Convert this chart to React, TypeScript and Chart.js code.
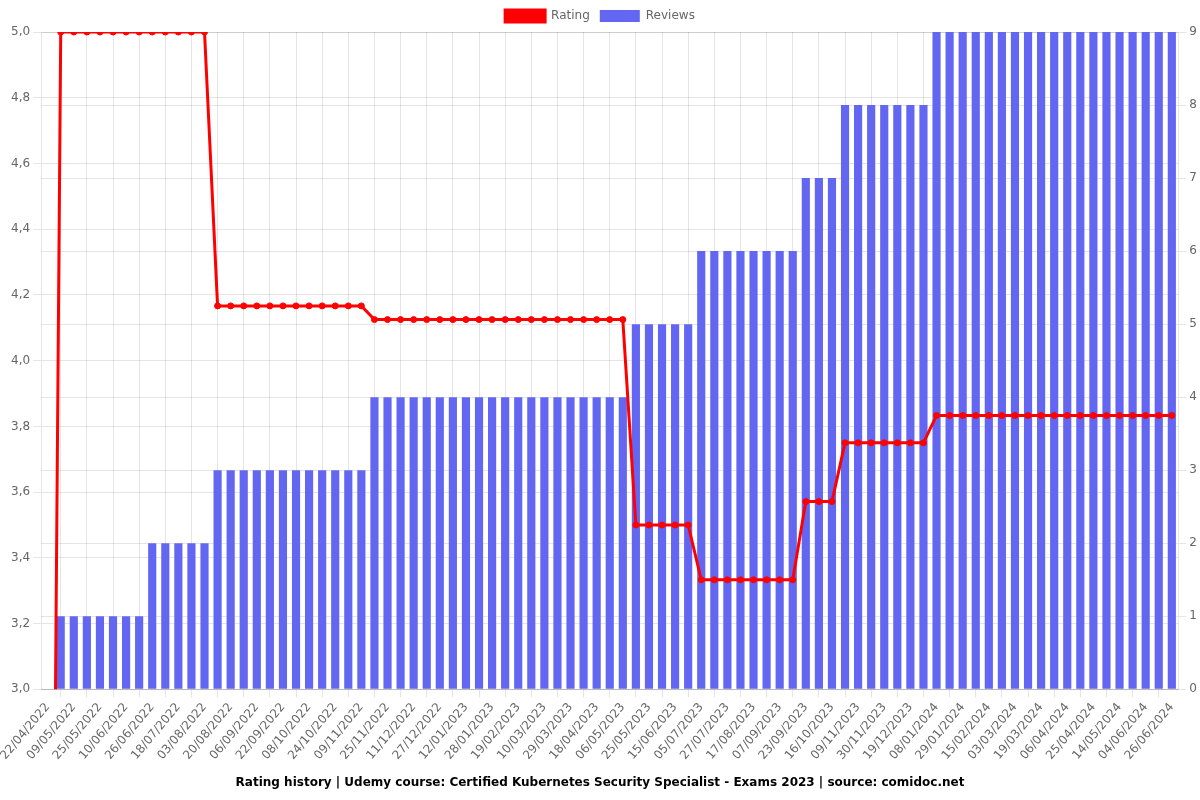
import React, { useEffect, useRef } from "react";
import { Chart, registerables } from "chart.js";

Chart.register(...registerables);

const labels: string[] = [
  "22/04/2022", "30/04/2022", "09/05/2022", "17/05/2022", "25/05/2022", "02/06/2022",
  "10/06/2022", "18/06/2022", "26/06/2022", "07/07/2022", "18/07/2022", "26/07/2022",
  "03/08/2022", "11/08/2022", "20/08/2022", "28/08/2022", "06/09/2022", "14/09/2022",
  "22/09/2022", "30/09/2022", "08/10/2022", "16/10/2022", "24/10/2022", "01/11/2022",
  "09/11/2022", "17/11/2022", "25/11/2022", "03/12/2022", "11/12/2022", "19/12/2022",
  "27/12/2022", "04/01/2023", "12/01/2023", "20/01/2023", "28/01/2023", "08/02/2023",
  "19/02/2023", "28/02/2023", "10/03/2023", "19/03/2023", "29/03/2023", "08/04/2023",
  "18/04/2023", "27/04/2023", "06/05/2023", "15/05/2023", "25/05/2023", "04/06/2023",
  "15/06/2023", "25/06/2023", "05/07/2023", "16/07/2023", "27/07/2023", "06/08/2023",
  "17/08/2023", "27/08/2023", "07/09/2023", "15/09/2023", "23/09/2023", "04/10/2023",
  "16/10/2023", "28/10/2023", "09/11/2023", "19/11/2023", "30/11/2023", "09/12/2023",
  "19/12/2023", "29/12/2023", "08/01/2024", "18/01/2024", "29/01/2024", "06/02/2024",
  "15/02/2024", "23/02/2024", "03/03/2024", "11/03/2024", "19/03/2024", "28/03/2024",
  "06/04/2024", "15/04/2024", "25/04/2024", "04/05/2024", "14/05/2024", "24/05/2024",
  "04/06/2024", "15/06/2024", "26/06/2024",
];

const ratings: number[] = [
  0,
  5, 5, 5, 5, 5, 5, 5,
  5, 5, 5, 5, 5,
  4.1667, 4.1667, 4.1667, 4.1667, 4.1667, 4.1667, 4.1667, 4.1667, 4.1667, 4.1667, 4.1667, 4.1667,
  4.125, 4.125, 4.125, 4.125, 4.125, 4.125, 4.125, 4.125, 4.125, 4.125,
  4.125, 4.125, 4.125, 4.125, 4.125, 4.125, 4.125, 4.125, 4.125, 4.125,
  3.5, 3.5, 3.5, 3.5, 3.5,
  3.3333, 3.3333, 3.3333, 3.3333, 3.3333, 3.3333, 3.3333, 3.3333,
  3.5714, 3.5714, 3.5714,
  3.75, 3.75, 3.75, 3.75, 3.75, 3.75, 3.75,
  3.8333, 3.8333, 3.8333, 3.8333, 3.8333, 3.8333, 3.8333, 3.8333, 3.8333, 3.8333,
  3.8333, 3.8333, 3.8333, 3.8333, 3.8333, 3.8333, 3.8333, 3.8333, 3.8333,
];

const reviews: number[] = [
  0,
  1, 1, 1, 1, 1, 1, 1,
  2, 2, 2, 2, 2,
  3, 3, 3, 3, 3, 3, 3, 3, 3, 3, 3, 3,
  4, 4, 4, 4, 4, 4, 4, 4, 4, 4,
  4, 4, 4, 4, 4, 4, 4, 4, 4, 4,
  5, 5, 5, 5, 5,
  6, 6, 6, 6, 6, 6, 6, 6,
  7, 7, 7,
  8, 8, 8, 8, 8, 8, 8,
  9, 9, 9, 9, 9, 9, 9, 9, 9, 9,
  9, 9, 9, 9, 9, 9, 9, 9, 9,
];

const ratingTicks = { min: 3, max: 5, step: 0.2 };
const reviewTicks = { min: 0, max: 9, step: 1 };

const titleText =
  "Rating history | Udemy course: Certified Kubernetes Security Specialist - Exams 2023 | source: comidoc.net";

export default function App() {
  const canvasRef = useRef<HTMLCanvasElement | null>(null);

  useEffect(() => {
    if (!canvasRef.current) return;
    Chart.defaults.font.family = "'DejaVu Sans', sans-serif";
    const chart = new Chart(canvasRef.current, {
      type: "bar",
      data: {
        labels,
        datasets: [
          {
            type: "line",
            label: "Rating",
            data: ratings,
            yAxisID: "y",
            borderColor: "rgb(255, 0, 0)",
            backgroundColor: "rgb(255, 0, 0)",
            borderWidth: 3,
            pointRadius: 3,
            pointBorderWidth: 1,
            tension: 0,
          },
          {
            type: "bar",
            label: "Reviews",
            data: reviews,
            yAxisID: "y1",
            backgroundColor: "rgb(99, 102, 241)",
            borderColor: "rgb(99, 102, 241)",
            borderWidth: 0,
            barPercentage: 0.78,
            categoryPercentage: 0.8,
          },
        ],
      },
      options: {
        responsive: true,
        maintainAspectRatio: false,
        animation: false,
        plugins: {
          legend: { position: "top" },
          title: {
            display: true,
            text: titleText,
            position: "bottom",
            color: "#000",
            font: { size: 12, weight: "bold" },
          },
          tooltip: { enabled: false },
        },
        scales: {
          x: {
            ticks: { maxRotation: 50 },
          },
          y: {
            position: "left",
            min: ratingTicks.min,
            max: ratingTicks.max,
            ticks: {
              stepSize: ratingTicks.step,
              callback: (v: any) => Number(v).toFixed(1).replace(".", ","),
            },
          },
          y1: {
            position: "right",
            min: reviewTicks.min,
            max: reviewTicks.max,
            ticks: { stepSize: reviewTicks.step },
          },
        },
      },
    });
    return () => chart.destroy();
  }, []);

  return (
    <div style={{ position: "fixed", left: 0, top: 0, width: 1200, height: 800 }}>
      <canvas ref={canvasRef} />
    </div>
  );
}
